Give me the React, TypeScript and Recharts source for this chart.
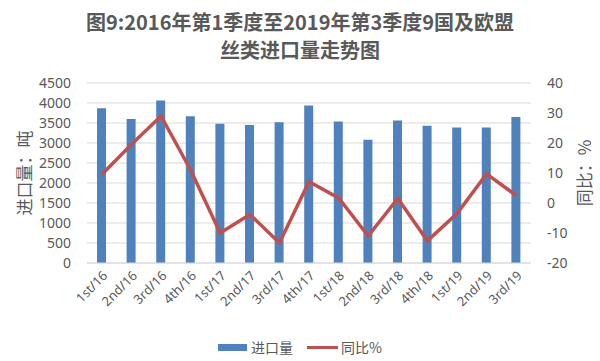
import React from 'react';
import { ComposedChart, Bar, Line, XAxis, YAxis, CartesianGrid, Legend } from 'recharts';

const quarters = [
  '1st/16', '2nd/16', '3rd/16', '4th/16',
  '1st/17', '2nd/17', '3rd/17', '4th/17',
  '1st/18', '2nd/18', '3rd/18', '4th/18',
  '1st/19', '2nd/19', '3rd/19',
];
const imports = [3870, 3600, 4060, 3670, 3480, 3450, 3520, 3940, 3540, 3080, 3560, 3430, 3390, 3390, 3650];
const yoy = [9.5, 19.5, 29.0, 11.0, -10.0, -3.8, -13.3, 7.1, 1.7, -11.0, 1.5, -12.6, -3.5, 9.7, 2.5];
const leftTicks = [0, 500, 1000, 1500, 2000, 2500, 3000, 3500, 4000, 4500];
const rightTicks = [-20, -10, 0, 10, 20, 30, 40];

const data = quarters.map((q, i) => ({ name: q, imports: imports[i], yoy: yoy[i] }));

const textColor = '#595959';
const font = '"Noto Sans", "Noto Sans CJK SC", sans-serif';
const cjk = '"Noto Sans CJK SC", sans-serif';

const AxisTitle = ({ viewBox, text, dx }: any) => {
  const cx = viewBox.x + dx;
  const cy = viewBox.y + viewBox.height / 2;
  return (
    <text
      x={cx}
      y={cy}
      transform={`rotate(-90 ${cx} ${cy})`}
      textAnchor="middle"
      dominantBaseline="central"
      fill={textColor}
      fontSize={17}
      fontFamily={cjk}
    >
      {text}
    </text>
  );
};

const renderLegend = () => (
  <div style={{ display: 'flex', justifyContent: 'center', alignItems: 'center', fontSize: 14, color: textColor, fontFamily: cjk, height: 24 }}>
    <span style={{ display: 'inline-block', width: 29, height: 7, background: '#4F81BD', marginRight: 4 }} />
    <span style={{ marginRight: 14 }}>进口量</span>
    <span style={{ display: 'inline-block', width: 31, height: 3, background: '#C0504D', marginRight: 3 }} />
    <span>同比%</span>
  </div>
);

const App = () => {
  return (
    <div style={{ position: 'absolute', left: 0, top: 0, width: 600, height: 361, background: '#fff' }}>
      <div
        style={{
          position: 'absolute', left: 0, top: 8, width: 600, textAlign: 'center',
          fontFamily: cjk, fontWeight: 'bold', fontSize: 20, lineHeight: '28px', color: textColor,
        }}
      >
        图9:2016年第1季度至2019年第3季度9国及欧盟<br />丝类进口量走势图
      </div>
      <ComposedChart width={600} height={361} data={data} margin={{ top: 83, right: 0, left: 0, bottom: 2 }}>
        <CartesianGrid yAxisId="left" vertical={false} stroke="#D9D9D9" />
        <XAxis
          dataKey="name"
          height={72}
          interval={0}
          angle={-45}
          textAnchor="end"
          tickLine={false}
          axisLine={{ stroke: '#D9D9D9' }}
          tick={{ fill: textColor, fontSize: 13, fontFamily: font }}
          tickMargin={1}
        />
        <YAxis
          yAxisId="left"
          width={87}
          domain={[0, 4500]}
          ticks={leftTicks}
          interval={0}
          axisLine={false}
          tickLine={false}
          tickMargin={10}
          tick={{ fill: textColor, fontSize: 14, fontFamily: font }}
          label={{ content: (p: any) => <AxisTitle {...p} text="进口量：吨" dx={23} /> }}
        />
        <YAxis
          yAxisId="right"
          orientation="right"
          width={69}
          domain={[-20, 40]}
          ticks={rightTicks}
          interval={0}
          axisLine={false}
          tickLine={false}
          tickMargin={10}
          tick={{ fill: textColor, fontSize: 14, fontFamily: font }}
          label={{ content: (p: any) => <AxisTitle {...p} text="同比：%" dx={52} /> }}
        />
        <Legend verticalAlign="bottom" content={renderLegend} wrapperStyle={{ height: 24 }} />
        <Bar yAxisId="left" dataKey="imports" name="进口量" fill="#4F81BD" barSize={9} isAnimationActive={false} />
        <Line
          yAxisId="right"
          dataKey="yoy"
          name="同比%"
          stroke="#C0504D"
          strokeWidth={3.5}
          dot={false}
          type="linear"
          isAnimationActive={false}
        />
      </ComposedChart>
    </div>
  );
};

export default App;
